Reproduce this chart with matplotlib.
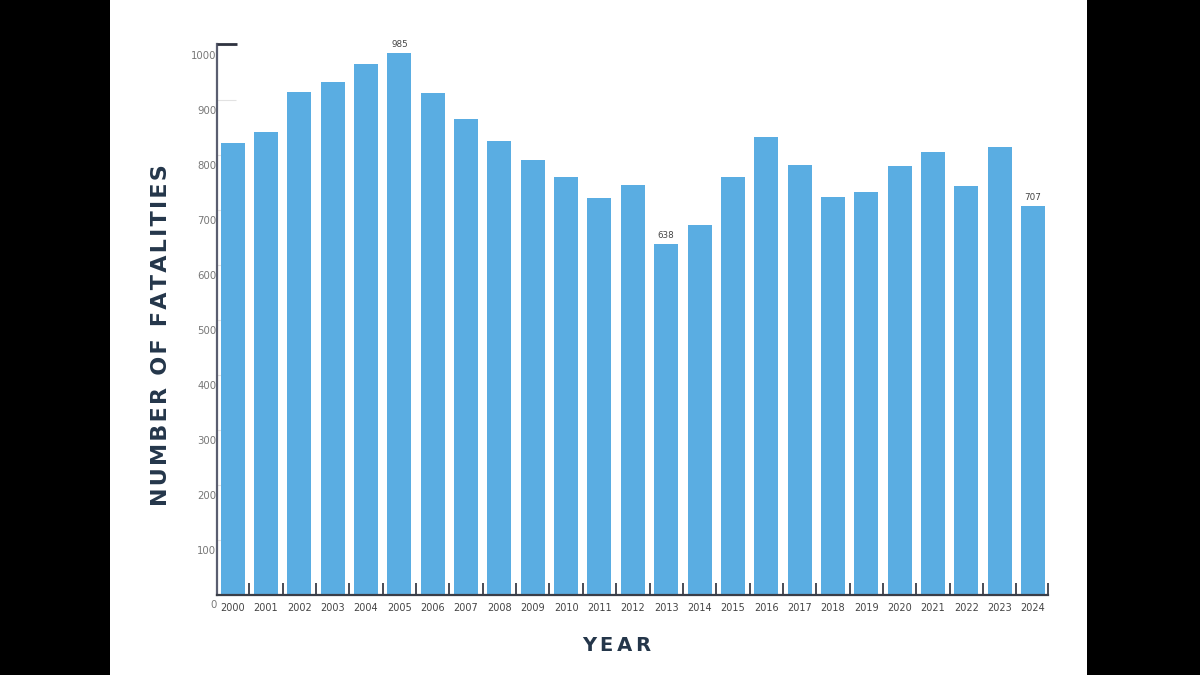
import matplotlib
matplotlib.use('Agg')
import matplotlib.pyplot as plt
from matplotlib.patches import Rectangle
from matplotlib.transforms import ScaledTranslation
import numpy as np

# ---- data ----
years = [str(y) for y in range(2000, 2025)]
fatalities = [822, 842, 915, 932, 965, 985, 913, 865, 826, 791, 760, 721, 745,
              638, 673, 760, 833, 782, 723, 732, 780, 806, 744, 814, 707]
labeled_years = ["2005", "2013", "2024"]
y_ticks = [0, 100, 200, 300, 400, 500, 600, 700, 800, 900, 1000]
y_tick_labels = [str(v) for v in y_ticks]
x_title = "YEAR"
y_title = "NUMBER OF FATALITIES"

BAR = '#5aade2'
NAVY = '#24364a'


def spaced(s, sep='\u200a'):
    return sep.join(s)


plt.rcParams['font.family'] = ['DejaVu Sans']

fig = plt.figure(figsize=(12, 6.75), dpi=100, facecolor='black')
fig.patches.append(Rectangle((110 / 1200, 0), 977 / 1200, 1, transform=fig.transFigure,
                             facecolor='white', edgecolor='none', zorder=-5))

ax = fig.add_axes([217 / 1200, 1 - 594.5 / 675, 831 / 1200, 550.5 / 675])
ax.set_zorder(2)
ax.patch.set_alpha(0)
x = np.arange(len(years))
ax.bar(x, fatalities, width=0.72, color=BAR, zorder=2)
ax.set_xlim(-0.47, len(years) - 0.55)
ax.set_ylim(0, 1002)
ax.set_axisbelow(True)

for s in ['top', 'right']:
    ax.spines[s].set_visible(False)
ax.spines['left'].set_color('#5a5e70')
ax.spines['left'].set_linewidth(1.6)
ax.spines['bottom'].set_color('#3a3e48')
ax.spines['bottom'].set_linewidth(1.6)

# x ticks
ax.set_xticks(x)
ax.set_xticklabels(years)
ax.tick_params(axis='x', which='major', length=0, pad=6, labelsize=7, labelcolor='#444444')
ax.set_xticks(list(x[:-1] + 0.5) + [len(years) - 0.55], minor=True)
ax.tick_params(axis='x', which='minor', direction='in', length=8.5, width=1.3, color='#3a3e48')

# y ticks
ax.set_yticks(y_ticks)
ax.set_yticklabels(y_tick_labels)
ax.tick_params(axis='y', which='major', direction='in', length=14, width=0.8,
               color='#e2e2e2', pad=0.5, labelsize=7.3, labelcolor='#777777')
off = ScaledTranslation(0, -10 / 100, fig.dpi_scale_trans)
for t in ax.yaxis.get_major_ticks():
    t.label1.set_transform(t.label1.get_transform() + off)

# top cap on y axis
ax.plot([0, 0.024], [1, 1], transform=ax.transAxes, color='#2f3340', lw=2,
        clip_on=False, zorder=3, solid_capstyle='butt')

# annotations
for i, (yr, v) in enumerate(zip(years, fatalities)):
    if yr in labeled_years:
        ax.annotate(str(v), (i, v), xytext=(0, 3), textcoords='offset points',
                    ha='center', va='bottom', fontsize=6.3, color='#444444')

# titles
ax.set_ylabel(spaced(y_title), fontsize=16, fontweight='bold', color=NAVY, va='center')
ax.yaxis.set_label_coords(-0.067, 0.471)
ax.set_xlabel(spaced(x_title, '\u2009'), fontsize=14, fontweight='bold', color=NAVY, va='center')
ax.xaxis.set_label_coords(0.481, -0.092)

fig.savefig('out.png', dpi=100, facecolor=fig.get_facecolor())
